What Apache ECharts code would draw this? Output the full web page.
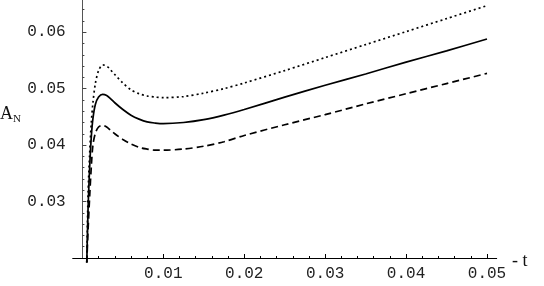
<!DOCTYPE html>
<html>
<head>
<meta charset="utf-8">
<script src="https://cdn.jsdelivr.net/npm/echarts@6/dist/echarts.min.js"></script>
<style>
html,body{margin:0;padding:0;background:#fff;}
#c{width:544px;height:286px;}
</style>
</head>
<body>
<div id="c"></div>
<script>
// -t values (shared by all curves)
var tValues = [0.00054, 0.0007, 0.0009, 0.0011, 0.0013, 0.0016, 0.002, 0.0025, 0.003, 0.0035, 0.004, 0.005, 0.006, 0.007, 0.008, 0.009, 0.010, 0.0125, 0.015, 0.0175, 0.02, 0.025, 0.03, 0.035, 0.04, 0.045, 0.05];
// A_N, upper (dotted) curve
var upperValues = [0.0192, 0.0313, 0.0386, 0.0440, 0.0475, 0.0509, 0.0532, 0.0542, 0.0540, 0.0533, 0.0525, 0.0510, 0.0498, 0.0491, 0.0487, 0.0485, 0.0484, 0.0486, 0.0492, 0.0500, 0.0510, 0.0532, 0.0555, 0.0578, 0.0601, 0.0624, 0.0647];
// A_N, middle (solid) curve
var middleValues = [0.0192, 0.0288, 0.0362, 0.0415, 0.0447, 0.0472, 0.0485, 0.0490, 0.0488, 0.0482, 0.0475, 0.0463, 0.0453, 0.0446, 0.0441, 0.0439, 0.0438, 0.0440, 0.0445, 0.0453, 0.0463, 0.0485, 0.0506, 0.0526, 0.0547, 0.0567, 0.0588];
// A_N, lower (dashed) curve
var lowerValues = [0.0192, 0.0250, 0.0310, 0.0362, 0.0400, 0.0421, 0.0432, 0.0435, 0.0432, 0.0426, 0.0420, 0.0410, 0.0402, 0.0396, 0.0393, 0.0391, 0.0391, 0.0393, 0.0398, 0.0406, 0.0417, 0.0436, 0.0454, 0.0473, 0.0491, 0.0509, 0.0527];
// tick labels
var xTickLabels = [0.01, 0.02, 0.03, 0.04, 0.05];
var xMinorTicks = [0.002, 0.004, 0.006, 0.008, 0.012, 0.014, 0.016, 0.018, 0.022, 0.024, 0.026, 0.028, 0.032, 0.034, 0.036, 0.038, 0.042, 0.044, 0.046, 0.048];
var yTickLabels = [0.03, 0.04, 0.05, 0.06];
var yMinorTicks = [0.022, 0.024, 0.026, 0.028, 0.032, 0.034, 0.036, 0.038, 0.042, 0.044, 0.046, 0.048, 0.052, 0.054, 0.056, 0.058, 0.062, 0.064];

function pairs(xs, ys){ return xs.map(function(x,i){ return [x, ys[i]]; }); }

var XMIN = -0.0012, XMAX = 0.0512, YMIN = 0.02, YMAX = 0.0657;
var monoFont = '"Liberation Mono", "Courier New", monospace';
var chart = echarts.init(document.getElementById('c'), null, {renderer:'canvas'});
var lineBase = {type:'line', symbol:'none', smooth:0.3, clip:false, silent:true, animation:false};
chart.setOption({
  animation:false,
  backgroundColor:'#fff',
  grid:{left:72.7, right:47.3, top:0, bottom:28, containLabel:false},
  xAxis:[{
    type:'value', min:XMIN, max:XMAX,
    axisLine:{show:true, onZero:false, lineStyle:{color:'#000', width:1}},
    axisTick:{show:true, inside:true, length:4, customValues:xTickLabels, lineStyle:{color:'#000'}},
    axisLabel:{show:true, customValues:xTickLabels, margin:8, color:'#222', fontFamily:monoFont, fontSize:16,
      formatter:function(v){return v.toFixed(2);}},
    splitLine:{show:false}
  },{
    type:'value', min:XMIN, max:XMAX, position:'bottom', offset:0,
    axisLine:{show:false, onZero:false},
    axisTick:{show:true, inside:true, length:2, customValues:xMinorTicks, lineStyle:{color:'#000'}},
    axisLabel:{show:false}, splitLine:{show:false}
  }],
  yAxis:[{
    type:'value', min:YMIN, max:YMAX,
    axisLine:{show:true, onZero:true, onZeroAxisIndex:0, lineStyle:{color:'#555', width:1}},
    axisTick:{show:true, inside:true, length:4, customValues:yTickLabels, lineStyle:{color:'#444'}},
    axisLabel:{show:true, customValues:yTickLabels, margin:7, color:'#222', fontFamily:monoFont, fontSize:16,
      formatter:function(v){return v.toFixed(2);}},
    splitLine:{show:false}
  },{
    type:'value', min:YMIN, max:YMAX, position:'left', offset:0,
    axisLine:{show:false, onZero:true, onZeroAxisIndex:0},
    axisTick:{show:true, inside:true, length:2, customValues:yMinorTicks, lineStyle:{color:'#444'}},
    axisLabel:{show:false}, splitLine:{show:false}
  }],
  graphic:[
    {type:'text', left:0, top:105, style:{
      text:'{a|A}{n|N}',
      rich:{a:{fontFamily:'"Liberation Serif", "Times New Roman", serif', fontSize:18, fill:'#111'},
            n:{fontFamily:'"Liberation Serif", "Times New Roman", serif', fontSize:11, fill:'#111', padding:[10,0,0,0]}}
    }},
    {type:'text', left:512, top:252, style:{text:'- t', fontFamily:'"Liberation Serif", "Times New Roman", serif', fontSize:18, fill:'#111'}}
  ],
  series:[
    Object.assign({}, lineBase, {name:'upper', data:pairs(tValues, upperValues), lineStyle:{color:'#000', width:1.7, type:[2,3]}}),
    Object.assign({}, lineBase, {name:'middle', data:pairs(tValues, middleValues), lineStyle:{color:'#000', width:1.7, type:'solid'}}),
    Object.assign({}, lineBase, {name:'lower', data:pairs(tValues, lowerValues), lineStyle:{color:'#000', width:1.7, type:[7,4]}})
  ]
});
</script>
</body>
</html>
